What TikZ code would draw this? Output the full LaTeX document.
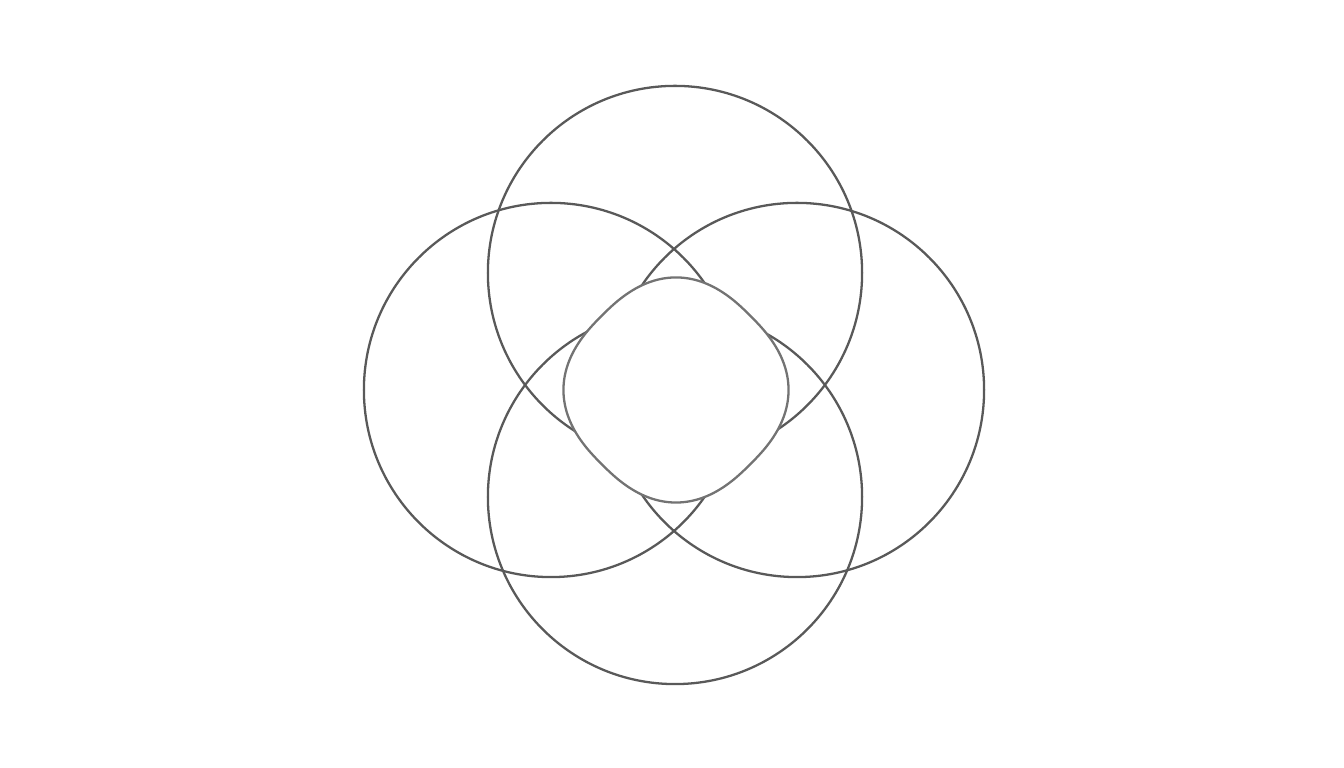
\documentclass[tikz,border=0pt]{standalone}
\usepackage{tikz}
\usetikzlibrary{positioning}

\begin{document}
\begin{tikzpicture}[
		x=0.01cm, y=-0.01cm,
		ring/.style={circle, draw=black!65, line width=0.65pt, minimum size=3.74cm, inner sep=0pt},
		core/.style={draw=black!55, fill=white, line width=0.65pt}
	]
	\useasboundingbox (0,0) rectangle (1344,768);

	\node[ring] (T) at (675,273) {};
	\node[ring] (L) at (551,390) {};
	\node[ring] (R) at (797,390) {};
	\node[ring] (B) at (675,497) {};

	% the middle piece hides the arcs below it
	\draw[core, shift={(676,390)}, rotate=45] plot[smooth cycle, domain=1:359, samples=180]
		({105*sign(cos(\x))*pow(abs(cos(\x)),0.8)},
		 {105*sign(sin(\x))*pow(abs(sin(\x)),0.8)});
\end{tikzpicture}
\end{document}
